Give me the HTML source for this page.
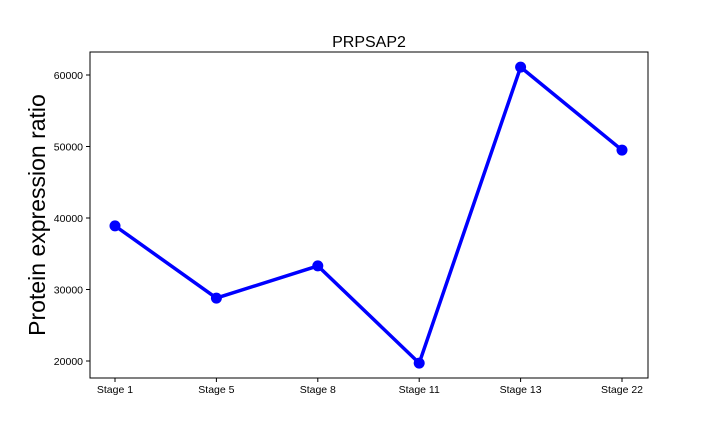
<!DOCTYPE html>
<html><head><meta charset="utf-8"><style>body{margin:0;background:#fff}svg{display:block}text{font-family:"Liberation Sans",sans-serif;fill:#000}</style></head>
<body>
<svg id="chart" width="720" height="432"></svg>
<script>
const categories = ["Stage 1","Stage 5","Stage 8","Stage 11","Stage 13","Stage 22"];
const values = [38900, 28800, 33300, 19700, 61100, 49500];
const yTicks = [20000, 30000, 40000, 50000, 60000];
const NS="http://www.w3.org/2000/svg";
const svg=document.getElementById('chart');
const L=90,R=648,T=52,B=378;
function xs(i){return 115+i*(622-115)/(categories.length-1);}
function ys(v){return 361-(v-20000)*(361-75)/40000;}
function mk(tag,attrs,parent){const e=document.createElementNS(NS,tag);for(const k in attrs)e.setAttribute(k,attrs[k]);(parent||svg).appendChild(e);return e;}
const frame=mk('rect',{x:L,y:T,width:R-L,height:B-T,fill:'none',stroke:'#000','stroke-width':1});


const title=mk('text',{x:(L+R)/2,y:47,'text-anchor':'middle','font-size':16});
title.textContent='PRPSAP2';


const yl=mk('text',{transform:'translate(45,215) rotate(-90)','text-anchor':'middle','font-size':23});
yl.textContent='Protein expression ratio';


yTicks.forEach(v=>{
  const y=ys(v);
  mk('line',{x1:L-4,x2:L,y1:y,y2:y,stroke:'#000'});
  const t=mk('text',{x:L-7,y:y+4,'text-anchor':'end','font-size':10.5});
  t.textContent=v;
  
  
});
categories.forEach((c,i)=>{
  const x=xs(i);
  mk('line',{x1:x,x2:x,y1:B,y2:B+4,stroke:'#000'});
  const t=mk('text',{x:x,y:B+15,'text-anchor':'middle','font-size':10.5});
  t.textContent=c;
  
  
});
const line=mk('polyline',{points:values.map((v,i)=>xs(i)+','+ys(v)).join(' '),fill:'none',stroke:'#0000ff','stroke-width':3.5,'stroke-linejoin':'round'});


values.forEach((v,i)=>{
  const c=mk('circle',{cx:xs(i),cy:ys(v),r:5.5,fill:'#0000ff'});
  
  
});
</script>
</body></html>
